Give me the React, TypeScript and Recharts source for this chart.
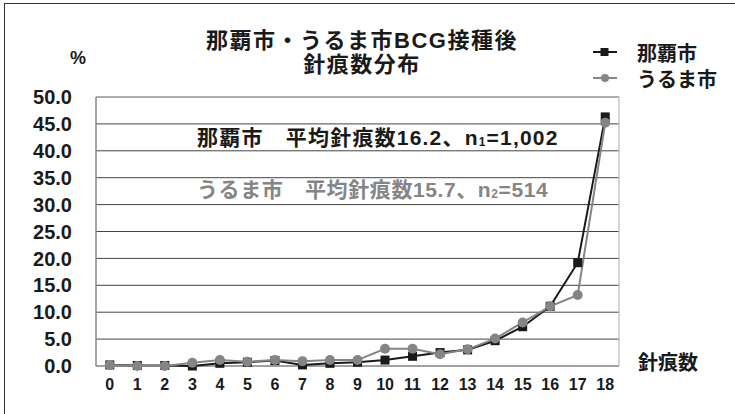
import { LineChart, Line, XAxis, YAxis, CartesianGrid, ReferenceLine } from 'recharts';

// 針痕数 0〜18
const CATEGORIES = [0, 1, 2, 3, 4, 5, 6, 7, 8, 9, 10, 11, 12, 13, 14, 15, 16, 17, 18];
// 割合 (%)
const NAHA = [0.2, 0.1, 0.1, 0.0, 0.5, 0.7, 1.0, 0.2, 0.5, 0.7, 1.1, 1.8, 2.5, 3.0, 4.7, 7.3, 11.1, 19.2, 46.3];
const URUMA = [0.2, 0.0, 0.0, 0.6, 1.1, 0.8, 1.1, 0.9, 1.1, 1.1, 3.2, 3.2, 2.2, 3.1, 5.1, 8.1, 11.1, 13.2, 45.2];
const Y_TICKS = [0, 5, 10, 15, 20, 25, 30, 35, 40, 45, 50];
const BOUNDARY_TICKS = [-0.5, ...CATEGORIES.map((c) => c + 0.5)];

const rows = CATEGORIES.map((c, i) => ({ x: c, naha: NAHA[i], uruma: URUMA[i] }));

const FONT = "'Liberation Sans', 'Noto Sans CJK JP', sans-serif";
const BLACK = '#1a1a1a';
const GRAY = '#858585';

const SquareDot = (p: any) => (
  <rect key={p.index} x={p.cx - 4.5} y={p.cy - 4.5} width={9} height={9} fill={BLACK} />
);
const CircleDot = (p: any) => (
  <circle key={p.index} cx={p.cx} cy={p.cy} r={5} fill={GRAY} />
);

function LegendBox() {
  const items = [
    { name: '那覇市', color: BLACK, square: true },
    { name: 'うるま市', color: GRAY, square: false },
  ];
  return (
    <div style={{ position: 'absolute', left: 593, top: 39, fontFamily: FONT, fontWeight: 700, fontSize: 20 }}>
      {items.map((it) => (
        <div key={it.name} style={{ display: 'flex', alignItems: 'center', height: 26 }}>
          <svg width={44} height={14}>
            <line x1={0} x2={24} y1={7} y2={7} stroke={it.color} strokeWidth={2} />
            {it.square ? (
              <rect x={7.5} y={3} width={8} height={8} fill={it.color} />
            ) : (
              <circle cx={12} cy={7} r={4} fill={it.color} />
            )}
          </svg>
          <span style={{ color: '#1a1a1a' }}>{it.name}</span>
        </div>
      ))}
    </div>
  );
}

export default function App() {
  return (
    <div style={{ position: 'absolute', left: 0, top: 0, width: 735, height: 414, background: '#fff', overflow: 'hidden' }}>
      <div style={{ position: 'absolute', left: 4, top: 3, width: 800, height: 500, borderLeft: '1.5px solid #333', borderTop: '1.5px solid #333' }} />
      <LineChart width={735} height={414} data={rows} margin={{ top: 97, right: 116, left: 0, bottom: 0 }}>
        <CartesianGrid vertical={false} stroke="#444" />
        <XAxis
          xAxisId="marks"
          type="number"
          dataKey="x"
          domain={[-0.5, 18.5]}
          ticks={BOUNDARY_TICKS}
          tickFormatter={() => ''}
          height={0}
          tickSize={5}
          stroke="#555"
          tickLine={{ stroke: '#555' }}
          axisLine={{ stroke: '#555', strokeWidth: 1.5 }}
          interval={0}
        />
        <XAxis
          xAxisId="labels"
          type="number"
          dataKey="x"
          domain={[-0.5, 18.5]}
          ticks={CATEGORIES}
          interval={0}
          height={48}
          axisLine={false}
          tickLine={false}
          tickSize={0}
          tickMargin={13}
          tick={{ fontSize: 16, fontWeight: 700, fill: BLACK, fontFamily: FONT }}
        />
        <YAxis
          domain={[0, 50]}
          ticks={Y_TICKS}
          interval={0}
          width={96}
          tickFormatter={(v: number) => v.toFixed(1)}
          tickSize={0}
          tickMargin={24}
          tickLine={false}
          axisLine={{ stroke: '#888', strokeWidth: 1.5 }}
          tick={{ fontSize: 20, fontWeight: 700, fill: BLACK, fontFamily: FONT }}
        />
        <ReferenceLine y={50} xAxisId="labels" stroke="#bbb" strokeWidth={1.2} />
        <ReferenceLine x={18.5} xAxisId="labels" stroke="#bbb" strokeWidth={1.2} />
        <Line
          xAxisId="labels"
          dataKey="naha"
          name="那覇市"
          stroke={BLACK}
          strokeWidth={2}
          dot={SquareDot}
          isAnimationActive={false}
        />
        <Line
          xAxisId="labels"
          dataKey="uruma"
          name="うるま市"
          stroke={GRAY}
          strokeWidth={2}
          dot={CircleDot}
          isAnimationActive={false}
        />
      </LineChart>
      <LegendBox />
      <svg
        width={735}
        height={414}
        style={{ position: 'absolute', left: 0, top: 0, pointerEvents: 'none' }}
        fontFamily={FONT}
        fontWeight={700}
      >
        <text x={362} y={48} textAnchor="middle" fontSize={22} letterSpacing={1.5} fill={BLACK}>
          那覇市・うるま市BCG接種後
        </text>
        <text x={362} y={72} textAnchor="middle" fontSize={22} letterSpacing={1.5} fill={BLACK}>
          針痕数分布
        </text>
        <text x={78} y={64} textAnchor="middle" fontSize={18} fill={BLACK}>%</text>
        <text x={668} y={370} textAnchor="middle" fontSize={20} fill={BLACK}>針痕数</text>
        <text x={197} y={145} fontSize={21} letterSpacing={1.2} fill={BLACK}>
          那覇市　平均針痕数16.2、n<tspan fontSize={12} dy={1}>1</tspan>
          <tspan dy={-1}>=1,002</tspan>
        </text>
        <text x={197} y={197} fontSize={21} letterSpacing={0.6} fill={GRAY}>
          うるま市　平均針痕数15.7、n<tspan fontSize={12} dy={1}>2</tspan>
          <tspan dy={-1}>=514</tspan>
        </text>
      </svg>
    </div>
  );
}
